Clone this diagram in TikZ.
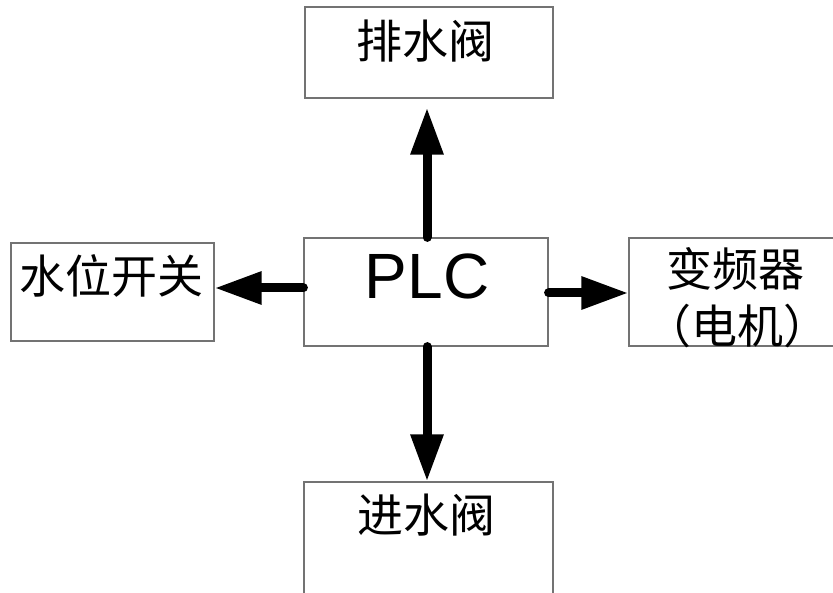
\documentclass[tikz,border=0pt]{standalone}
\usepackage{fontspec}
\setmainfont{Liberation Sans}
\newfontfamily\cjk{Noto Sans CJK SC}
\usetikzlibrary{arrows.meta}
\begin{document}
\begin{tikzpicture}[x=1pt,y=-1pt,
  box/.style={draw=black!55,line width=1.2pt,rectangle,inner sep=0pt},
  cjktext/.style={anchor=base,inner sep=0pt,font=\cjk\fontsize{46}{50}\selectfont},
  plctext/.style={anchor=base,inner sep=0pt,font=\fontsize{64}{70}\selectfont},
  arr/.style={line width=9pt,line cap=round,-{Triangle[length=47pt,width=31pt]}}]
\useasboundingbox (0,0) rectangle (833,593);
\clip (0,0) rectangle (833,593);
\node[box,minimum width=248pt,minimum height=91pt] (top) at (429,52.5) {};
\node[box,minimum width=244pt,minimum height=108pt] (plc) at (426,292) {};
\node[box,minimum width=203pt,minimum height=98pt] (left) at (112.5,292) {};
\node[box,minimum width=222pt,minimum height=108pt] (right) at (740,292) {};
\node[box,minimum width=249pt,minimum height=128pt] (bottom) at (428.5,546) {};
\node[cjktext] (ttop) at (425,59) {排水阀};
\node[cjktext] (tleft) at (111.5,294) {水位开关};
\node[cjktext] (tright1) at (735,287) {变频器};
\node[cjktext] (tright2) at (737,344) {（电机）};
\node[cjktext] (tbottom) at (426,532) {进水阀};
\node[plctext] (tplc) at (427,299) {PLC};
\draw[arr] ([xshift=1pt]plc.north) -- ([xshift=1pt,yshift=-9pt]plc.north |- top.south);
\draw[arr] ([yshift=4pt]plc.west) -- ([yshift=4pt]plc.west -| left.east);
\draw[arr] ([yshift=-1pt]plc.east) -- ([yshift=-1pt]plc.east -| right.west);
\draw[arr] ([xshift=1pt]plc.south) -- ([xshift=1pt]plc.south |- bottom.north);
\end{tikzpicture}
\end{document}
